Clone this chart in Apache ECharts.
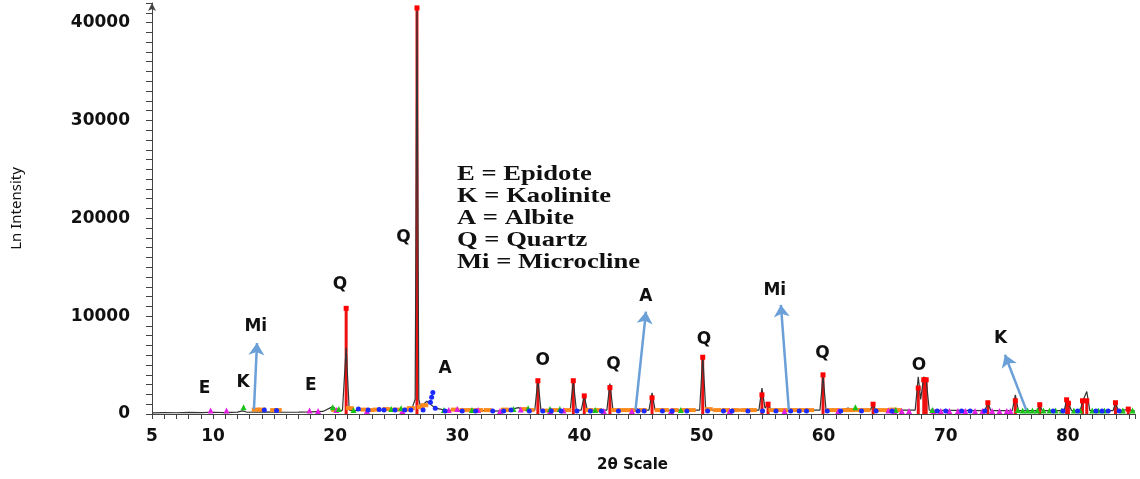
<!DOCTYPE html>
<html>
<head>
<meta charset="utf-8">
<script src="https://cdn.jsdelivr.net/npm/echarts@6/dist/echarts.min.js"></script>
<style>
  html, body { margin: 0; padding: 0; background: #fff; }
  #chart { width: 1140px; height: 479px; }
</style>
</head>
<body>
<div id="chart"></div>
<script>
// measured pattern (2θ, intensity)
const pattern = [
  [5, 120], [6, 150], [7, 130], [8, 160], [9, 140], [10, 180], [11, 150], [12, 200], [12.4, 320], [12.8, 180],
  [14, 220], [15, 200], [16, 180], [17, 190], [18, 220], [19, 260], [19.8, 750], [20.3, 300], [20.6, 400],
  [20.9, 6800], [21.15, 400], [21.5, 350], [22, 380], [23, 400], [24, 420], [25, 450], [25.8, 500], [26.3, 600],
  [26.55, 1500], [26.7, 41200], [26.85, 1500], [27.0, 700], [27.5, 1300], [27.8, 1000], [28.2, 600], [29, 400],
  [30, 380], [31, 400], [32, 350], [33, 300], [34, 350], [35, 650], [35.5, 400], [36.35, 400], [36.6, 3500],
  [36.85, 400], [38, 400], [39.25, 400], [39.5, 3400], [39.75, 400], [40.15, 400], [40.4, 1850], [40.65, 400],
  [42.25, 400], [42.5, 3100], [42.75, 400], [45.7, 400], [45.95, 2150], [46.2, 400], [49.85, 400], [50.1, 6000],
  [50.35, 400], [54.7, 400], [54.95, 2650], [55.2, 600], [55.45, 1050], [55.7, 400], [59.7, 400], [59.95, 3900],
  [60.2, 400], [61.5, 400], [62, 600], [62.5, 400], [63.8, 400], [64.05, 900], [64.3, 400], [67.5, 400],
  [67.75, 3800], [67.95, 1500], [68.2, 3800], [68.4, 3500], [68.65, 400], [73.2, 350], [73.45, 1100], [73.7, 350],
  [75.45, 350], [75.7, 1950], [75.95, 350], [77.5, 350], [77.7, 900], [77.9, 350], [79.7, 350], [79.9, 1450],
  [80.05, 1100], [80.3, 350], [81.0, 350], [81.25, 1400], [81.55, 2300], [81.8, 350], [83.7, 350], [83.9, 1100],
  [84.15, 350], [84.95, 450], [85.5, 300]
];

// reference sticks (red)
const sticks = [
  [20.9, 10800], [26.7, 41500], [36.6, 3400], [39.5, 3400], [40.4, 1850], [42.5, 2700], [45.95, 1650],
  [50.1, 5800], [54.95, 1950], [55.45, 1000], [59.95, 4000], [64.05, 1000], [67.75, 2650], [68.2, 3500],
  [68.4, 3500], [73.45, 1150], [75.7, 1350], [77.7, 950], [79.9, 1450], [80.05, 1100], [81.2, 1350],
  [81.55, 1350], [83.9, 1150], [84.95, 500]
];

// phase markers along the baseline
const magentaPts = [
  [9.8, 350], [11.1, 350], [17.9, 350], [18.6, 300], [20.1, 400], [22.6, 300], [25.5, 300], [29.3, 400],
  [30.0, 500], [31.7, 400], [33.5, 300], [35.2, 450], [37.6, 300], [38.7, 350], [42.0, 300], [44.3, 300],
  [47.5, 300], [52.3, 300], [56.8, 300], [61.2, 300], [65.3, 350], [65.8, 300], [66.4, 300], [67, 300],
  [69, 300], [69.6, 300], [70.3, 300], [71, 300], [71.6, 300], [72.4, 300], [73, 300], [73.8, 300],
  [74.4, 300], [75, 300], [75.3, 300]
];
const greenPts = [
  [12.5, 700], [19.8, 700], [20.3, 500], [21.5, 400], [24.6, 500], [25.4, 600], [28.9, 400], [31.2, 400],
  [34.6, 500], [35.8, 600], [37.6, 500], [38.4, 500], [41.3, 400], [48.3, 400], [62.6, 700], [65.9, 400],
  [68.9, 400], [75.9, 400], [76.3, 350], [76.7, 350], [77.1, 350], [77.5, 350], [78, 350], [78.5, 350],
  [79, 350], [79.5, 350], [80.5, 350], [81, 350], [82, 350], [82.5, 350], [83, 350], [84.5, 350], [85.3, 350]
];
const orangePts = [
  [13.5, 450], [14.0, 450], [15.0, 400], [15.3, 400], [20.0, 400], [21.2, 600], [22.4, 450], [22.9, 400],
  [23.4, 450], [24.2, 500], [25.0, 450], [25.9, 450], [26.2, 600], [27.0, 700], [27.3, 900], [29.8, 450],
  [30.5, 400], [31.1, 400], [31.8, 400], [32.5, 400], [33.9, 450], [34.3, 400], [35.5, 500], [36.0, 400],
  [37.2, 350], [38.0, 400], [39.0, 400], [40.8, 400], [41.5, 400], [42.9, 400], [43.5, 400], [44.0, 400],
  [44.5, 400], [45.2, 400], [46.5, 400], [47, 400], [47.8, 400], [48.6, 400], [49.2, 400], [50.6, 500],
  [51.3, 400], [52, 400], [52.8, 400], [53.5, 400], [54.2, 400], [55.8, 400], [56.4, 400], [57, 400],
  [57.6, 400], [58.3, 400], [58.9, 400], [60.5, 400], [61, 400], [61.8, 400], [62.3, 400], [63, 400],
  [63.5, 400], [64.6, 400], [65.2, 400], [65.7, 450], [66.1, 400]
];
const bluePts = [
  [14.2, 400], [15.2, 350], [21.9, 500], [22.7, 400], [23.6, 450], [24.0, 400], [24.9, 400], [25.7, 400],
  [26.2, 400], [27.2, 400], [27.8, 1200], [27.9, 1700], [28.0, 2200], [28.2, 600], [29, 300], [30.4, 300],
  [31.5, 300], [32.9, 300], [33.8, 300], [34.4, 400], [35.9, 300], [37.0, 300], [37.7, 300], [38.5, 300],
  [39.8, 300], [40.9, 300], [41.8, 300], [43.2, 300], [44.8, 300], [45.3, 300], [46.8, 300], [47.6, 300],
  [48.8, 300], [50.5, 300], [51.8, 300], [52.5, 300], [53.8, 300], [55.0, 300], [56.1, 300], [57.3, 300],
  [58.0, 300], [58.6, 300], [60.3, 300], [61.4, 300], [63.1, 300], [64.3, 300], [65.6, 300], [69.3, 300],
  [70.0, 300], [71.3, 300], [72.0, 300], [73.2, 300], [78.8, 300], [79.6, 300], [80.8, 300], [82.3, 300],
  [82.8, 300], [83.3, 300], [84.2, 300]
];

// peak letters [2θ, intensity, text]
const peakLabels = [
  [9.3, 2550, 'E'], [12.45, 3250, 'K'], [13.5, 8900, 'Mi'], [18.0, 2950, 'E'], [20.4, 13200, 'Q'],
  [25.6, 18000, 'Q'], [29.0, 4600, 'A'], [37.0, 5500, 'O'], [42.8, 5100, 'Q'], [45.45, 11950, 'A'],
  [50.2, 7650, 'Q'], [56.0, 12600, 'Mi'], [59.9, 6150, 'Q'], [67.8, 4900, 'O'], [74.5, 7750, 'K']
];
// arrows [x0, y0, x1, y1]
const arrows = [
  [13.35, 500, 13.6, 7250],
  [44.6, 450, 45.45, 10450],
  [57.15, 450, 56.5, 11150],
  [76.6, 400, 74.85, 6050]
];

const legendLines = ['E = Epidote', 'K = Kaolinite', 'A = Albite', 'Q = Quartz', 'Mi = Microcline'];

const axisFont = 'DejaVu Sans';
const chart = echarts.init(document.getElementById('chart'));

chart.setOption({
  animation: false,
  grid: { left: 152, right: 5, top: 3, bottom: 65 },
  xAxis: {
    type: 'value',
    min: 5,
    max: 85.5,
    interval: 1,
    name: '2θ Scale',
    nameLocation: 'middle',
    nameGap: 44,
    nameTextStyle: { fontFamily: axisFont, fontWeight: 'bold', fontSize: 15, color: '#111', padding: [0, 22, 0, 0] },
    axisLine: { lineStyle: { color: '#444', width: 1 } },
    axisTick: { length: 5, lineStyle: { color: '#444' } },
    axisLabel: {
      margin: 14,
      fontFamily: axisFont,
      fontWeight: 'bold',
      fontSize: 17,
      color: '#111',
      formatter: v => (v === 5 || (v % 10 === 0 && v <= 80)) ? String(v) : ''
    },
    splitLine: { show: false }
  },
  yAxis: {
    type: 'value',
    min: 0,
    max: 42000,
    interval: 1000,
    name: 'Ln Intensity',
    nameLocation: 'middle',
    nameGap: 128,
    nameTextStyle: { fontFamily: 'Noto Sans', fontSize: 15, color: '#111' },
    axisLine: { show: true, symbol: ['none', 'arrow'], symbolSize: [6, 8], lineStyle: { color: '#444', width: 1 } },
    axisTick: { show: true, length: 6, lineStyle: { color: '#444' } },
    axisLabel: {
      margin: 22,
      fontFamily: axisFont,
      fontWeight: 'bold',
      fontSize: 17,
      color: '#111',
      formatter: v => (v % 10000 === 0) ? String(v) : ''
    },
    splitLine: { show: false }
  },
  graphic: [{
    type: 'text',
    x: 457,
    y: 164,
    scaleX: 1.33,
    style: {
      text: legendLines.join('\n'),
      font: 'bold 20px "Liberation Serif"',
      lineHeight: 22,
      fill: '#111'
    }
  }],
  series: [
    {
      name: 'sticks',
      type: 'bar',
      barWidth: 3,
      itemStyle: { color: '#ee1111' },
      data: sticks,
      z: 1
    },
    {
      name: 'pattern',
      type: 'line',
      data: pattern,
      showSymbol: false,
      lineStyle: { color: '#333', width: 1.2 },
      z: 2
    },
    {
      name: 'orange', type: 'scatter', data: orangePts, symbol: 'rect', symbolSize: [8, 4],
      itemStyle: { color: '#ff8a1c', opacity: 1 }, z: 3
    },
    {
      name: 'magenta', type: 'scatter', data: magentaPts, symbol: 'triangle', symbolSize: 6,
      itemStyle: { color: '#e21ee2', opacity: 1 }, z: 3
    },
    {
      name: 'green', type: 'scatter', data: greenPts, symbol: 'triangle', symbolSize: 6,
      itemStyle: { color: '#18c418', opacity: 1 }, z: 3
    },
    {
      name: 'blue', type: 'scatter', data: bluePts, symbol: 'circle', symbolSize: 5,
      itemStyle: { color: '#1a2aff', opacity: 1 }, z: 4
    },
    {
      name: 'stickTops', type: 'scatter', data: sticks, symbol: 'rect', symbolSize: 5,
      itemStyle: { color: '#ff0000', opacity: 1 }, z: 5
    },
    {
      name: 'labels',
      type: 'scatter',
      data: peakLabels,
      symbolSize: 0,
      silent: true,
      itemStyle: { opacity: 1 },
      label: {
        show: true,
        position: 'inside',
        formatter: p => p.value[2],
        fontFamily: axisFont,
        fontWeight: 'bold',
        fontSize: 17,
        color: '#111',
        opacity: 1
      },
      markLine: {
        silent: true,
        symbol: ['none', 'arrow'],
        symbolSize: 12,
        label: { show: false },
        lineStyle: { color: '#6a9fd8', width: 2.5, type: 'solid', opacity: 1 },
        data: arrows.map(a => [{ coord: [a[0], a[1]] }, { coord: [a[2], a[3]] }])
      },
      z: 6
    }
  ]
});
</script>
</body>
</html>
